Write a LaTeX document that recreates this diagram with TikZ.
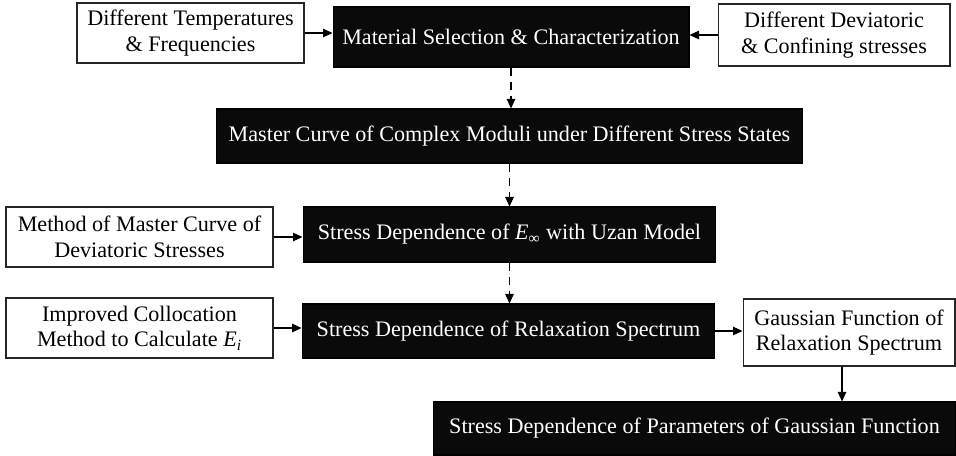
\documentclass[tikz,border=0pt]{standalone}
\usepackage{fontspec}
\setmainfont{Liberation Serif}
\usepackage{tikz}
\usetikzlibrary{arrows.meta, positioning, calc}
\tikzset{darkblock/.style={rectangle,draw=black,fill=black!96,text=white,align=center,inner sep=0pt,line width=0.6pt,font=\fontsize{12.6}{14.6}\selectfont},
         lightblock/.style={rectangle,draw=black!85,fill=white,align=center,inner sep=0pt,line width=0.6pt,font=\fontsize{12.6}{14.6}\selectfont},
         arrow/.style={-{Triangle[length=1.9mm,width=1.7mm]},line width=0.6pt},
         dasharrow/.style={arrow,dash pattern=on 1.7mm off 1.1mm}}

\begin{document}
\begin{tikzpicture}[x=0.02cm,y=-0.02cm]
    \useasboundingbox (0,0) rectangle (956,456);
    % Blocks
    \node (temp) at (190.5,33) [lightblock,minimum width=4.54cm,minimum height=1.2cm]{Different Temperatures\\ \& Frequencies};
    \node (material) at (511,37) [darkblock,minimum width=7.12cm,minimum height=1.2cm]{Material Selection \& Characterization};
    \node (confining) at (834,35) [lightblock,minimum width=4.64cm,minimum height=1.24cm]{Different Deviatoric\\ \& Confining stresses};
    \node (master) at (509.5,136) [darkblock,minimum width=11.74cm,minimum height=1.08cm]{Master Curve of Complex Moduli under Different Stress States};
    \node (method) at (139.5,237) [lightblock,minimum width=5.34cm,minimum height=1.2cm]{Method of Master Curve of\\ Deviatoric Stresses};
    \node (uzan) at (509.5,234.5) [darkblock,minimum width=8.26cm,minimum height=1.1cm]{Stress Dependence of \textit{E}\textsubscript{∞} with Uzan Model};
    \node (colloc) at (139.5,328) [lightblock,minimum width=5.34cm,minimum height=1.2cm]{Improved Collocation\\ Method to Calculate \textit{E\textsubscript{i}}};
    \node (spectrum) at (508.5,331) [darkblock,minimum width=8.26cm,minimum height=1.08cm]{Stress Dependence of Relaxation Spectrum};
    \node (gauss) at (849,332.5) [lightblock,minimum width=4.24cm,minimum height=1.34cm]{Gaussian Function of\\ Relaxation Spectrum};
    \node (params) at (694.5,428.5) [darkblock,minimum width=10.46cm,minimum height=1.06cm]{Stress Dependence of Parameters of Gaussian Function};
    % Arrows
    \draw[arrow] (temp.east) -- (temp.east -| material.west);
    \draw[arrow] (confining.west) -- (confining.west -| material.east);
    \draw[arrow] (method.east) -- (method.east -| uzan.west);
    \draw[arrow] (colloc.east) -- (colloc.east -| spectrum.west);
    \draw[arrow] (spectrum.east) -- (spectrum.east -| gauss.west);
    \draw[arrow] ([xshift=-0.14cm]gauss.south) -- ([xshift=-0.14cm]gauss.south |- params.north);
    % Dashed flow
    \draw[dasharrow] (material.south) -- (material.south |- master.north);
    \draw[dasharrow] (master.south) -- (master.south |- uzan.north);
    \draw[dasharrow] (uzan.south) -- (uzan.south |- spectrum.north);
\end{tikzpicture}
\end{document}
